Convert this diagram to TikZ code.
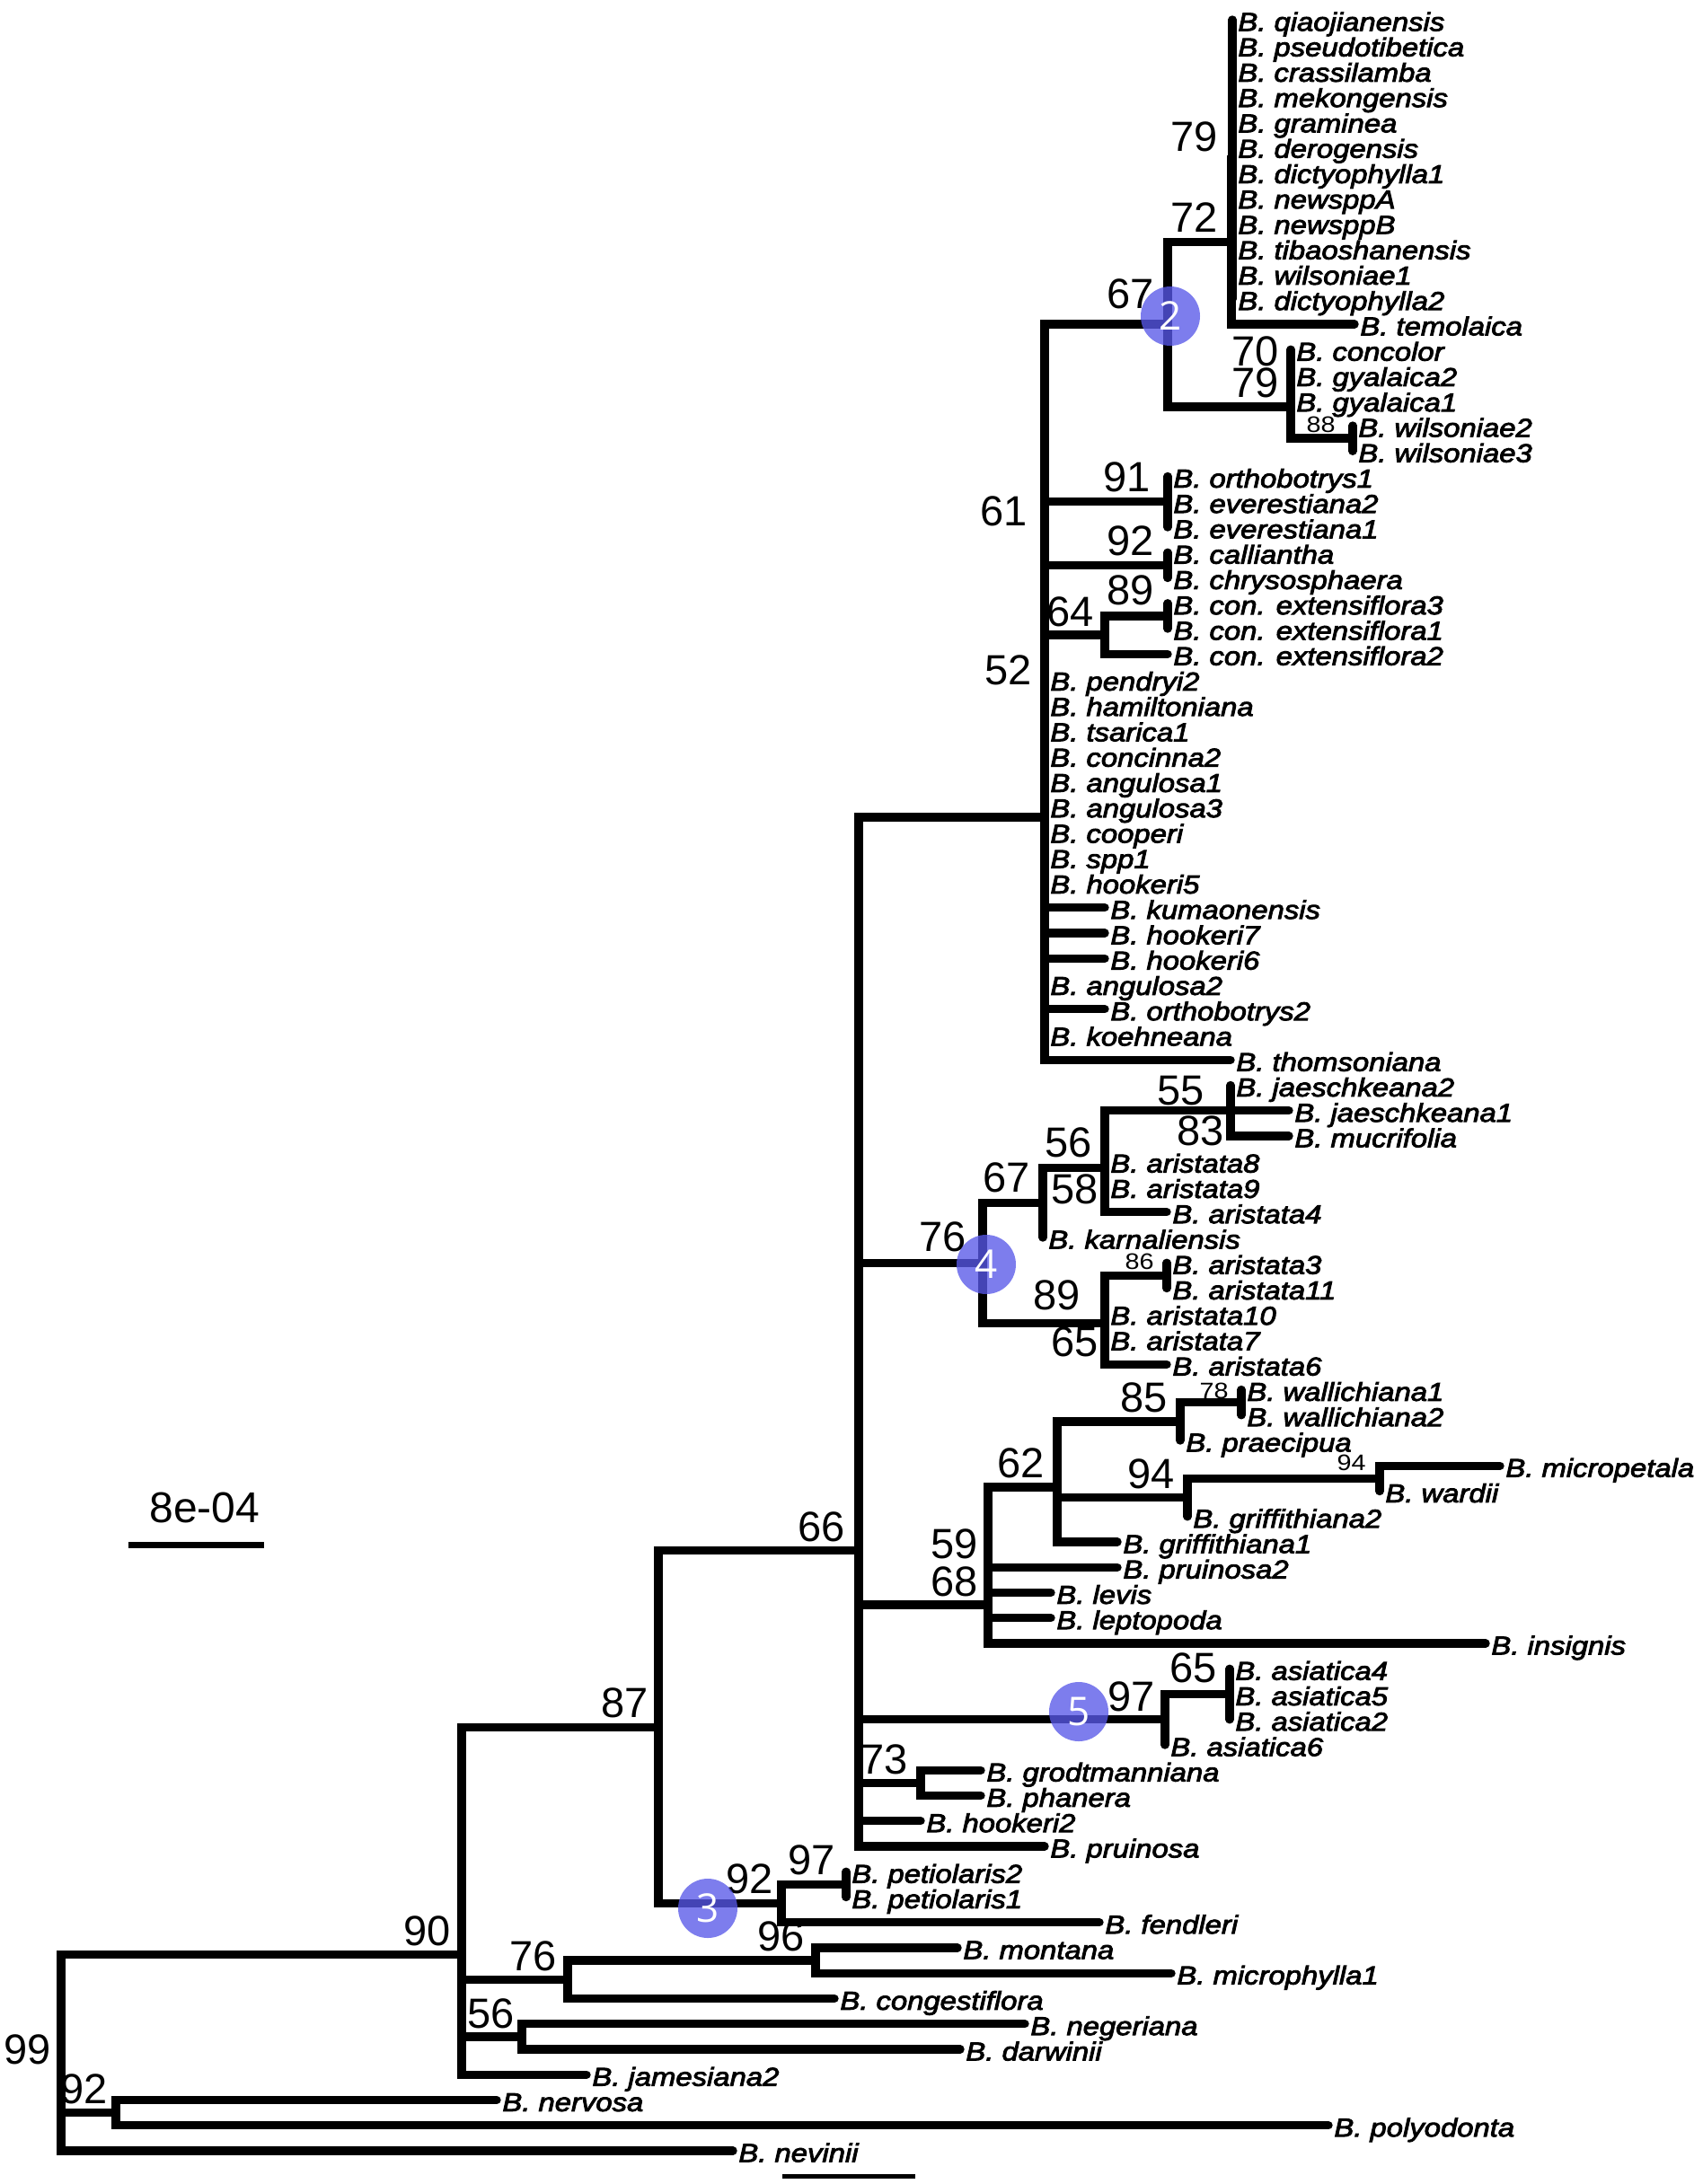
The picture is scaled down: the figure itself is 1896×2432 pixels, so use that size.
\documentclass[tikz,border=0pt]{standalone}
\usepackage{fontspec}
\setmainfont{Liberation Sans}
\newfontfamily\tipfont[FakeStretch=1.14,FakeBold=3]{Liberation Sans}
\newfontfamily\smallfont[FakeStretch=1.15]{Liberation Sans}
\newfontfamily\circfont{Open Sans}
\definecolor{circblue}{RGB}{88,88,232}
\begin{document}
\begin{tikzpicture}[x=0.5pt,y=-0.5pt,
  br/.style={line width=4.7pt,line cap=round,line join=miter},
  tiplabel/.style={anchor=base west,inner sep=0pt,xshift=3pt,yshift=-6.2pt,font=\tipfont\itshape\fontsize{14.4}{15}\selectfont},
  bslab/.style={anchor=base east,inner sep=0pt,font=\fontsize{23.5}{24}\selectfont},
  bssmall/.style={anchor=base east,inner sep=0pt,font=\smallfont\fontsize{12.5}{13}\selectfont},
  marker/.style={circle,fill=circblue,fill opacity=0.78,text opacity=1,text=white,minimum size=33pt,inner sep=0pt,font=\circfont\fontsize{22}{22}\selectfont}]
\useasboundingbox (0,0) rectangle (1896,2432);
% tips
\foreach \i/\x in {
1/1372, 2/1372, 3/1372, 4/1372, 5/1372, 6/1372, 7/1372, 8/1372, 9/1372, 10/1372, 11/1372, 12/1372,
13/1508, 14/1437, 15/1437, 16/1437, 17/1506, 18/1506, 19/1300, 20/1300, 21/1300, 22/1300,
23/1300, 24/1300, 25/1300, 26/1300, 27/1163, 28/1163, 29/1163, 30/1163, 31/1163,
32/1163, 33/1163, 34/1163, 35/1163, 36/1230, 37/1230, 38/1230, 39/1163, 40/1230, 41/1163,
42/1370, 43/1370, 44/1435, 45/1435, 46/1230, 47/1230, 48/1299, 49/1161, 50/1299,
51/1299, 52/1230, 53/1230, 54/1299, 55/1382, 56/1382, 57/1314, 58/1670, 59/1536, 60/1322,
61/1244, 62/1244, 63/1170, 64/1170, 65/1654, 66/1369, 67/1369, 68/1369, 69/1297, 70/1092,
71/1092, 72/1025, 73/1163, 74/942, 75/942, 76/1224, 77/1066, 78/1304, 79/929, 80/1141,
81/1069, 82/653, 83/553, 84/1479, 85/816}
{ \coordinate (t\i) at (\x,{22+28.25*(\i-1)}); }
% internal nodes
\coordinate (n79) at (1372,177.4);
\coordinate (n72) at (1371,269.2);
\coordinate (n70) at (1437,417.5);
\coordinate (n88) at (1506,488.1);
\coordinate (nA) at (1437,452.8);
\coordinate (n67) at (1300,361);
\coordinate (n91) at (1300,558.75);
\coordinate (n92) at (1300,629.4);
\coordinate (n89) at (1300,685.9);
\coordinate (n64) at (1230,707.1);
\coordinate (n52) at (1163,910);
\coordinate (n55) at (1370,1236.75);
\coordinate (n56) at (1230,1300.3);
\coordinate (n67b) at (1161,1339.2);
\coordinate (n86) at (1299,1420.4);
\coordinate (n89b) at (1230,1473.4);
\coordinate (n76) at (1094,1406.3);
\coordinate (n78) at (1382,1561.6);
\coordinate (n85) at (1314,1582.8);
\coordinate (n94b) at (1536,1646.4);
\coordinate (n94) at (1322,1667.6);
\coordinate (n62) at (1177,1655.8);
\coordinate (n68) at (1100,1787);
\coordinate (n65) at (1369,1886.5);
\coordinate (n97) at (1297,1914.75);
\coordinate (n73) at (1025,1985.4);
\coordinate (n66) at (956,1726.7);
\coordinate (n97p) at (942,2098.4);
\coordinate (n92p) at (870,2119.6);
\coordinate (n87) at (733,1923.2);
\coordinate (n96) at (908,2183.1);
\coordinate (n76b) at (632,2204.3);
\coordinate (n56b) at (581,2267.9);
\coordinate (n90) at (514,2176.4);
\coordinate (n92b) at (129,2352.6);
\coordinate (n99) at (68,2308);
% branches
\foreach \i in {1,...,12} \draw[br] (n79) |- (t\i);
\draw[br] (n72) |- (n79); \draw[br] (n72) |- (t13);
\foreach \i in {14,15,16} \draw[br] (n70) |- (t\i);
\foreach \i in {17,18} \draw[br] (n88) |- (t\i);
\draw[br] (nA) |- (n70); \draw[br] (nA) |- (n88);
\draw[br] (n67) |- (n72); \draw[br] (n67) |- (nA);
\foreach \i in {19,20,21} \draw[br] (n91) |- (t\i);
\foreach \i in {22,23} \draw[br] (n92) |- (t\i);
\foreach \i in {24,25} \draw[br] (n89) |- (t\i);
\draw[br] (n64) |- (n89); \draw[br] (n64) |- (t26);
\foreach \c in {n67,n91,n92,n64} \draw[br] (n52) |- (\c);
\foreach \i in {27,...,42} \draw[br] (n52) |- (t\i);
\foreach \i in {43,44,45} \draw[br] (n55) |- (t\i);
\draw[br] (n56) |- (n55);
\foreach \i in {46,47,48} \draw[br] (n56) |- (t\i);
\draw[br] (n67b) |- (n56); \draw[br] (n67b) |- (t49);
\foreach \i in {50,51} \draw[br] (n86) |- (t\i);
\draw[br] (n89b) |- (n86);
\foreach \i in {52,53,54} \draw[br] (n89b) |- (t\i);
\draw[br] (n76) |- (n67b); \draw[br] (n76) |- (n89b);
\foreach \i in {55,56} \draw[br] (n78) |- (t\i);
\draw[br] (n85) |- (n78); \draw[br] (n85) |- (t57);
\foreach \i in {58,59} \draw[br] (n94b) |- (t\i);
\draw[br] (n94) |- (n94b); \draw[br] (n94) |- (t60);
\draw[br] (n62) |- (n85); \draw[br] (n62) |- (n94); \draw[br] (n62) |- (t61);
\draw[br] (n68) |- (n62);
\foreach \i in {62,63,64,65} \draw[br] (n68) |- (t\i);
\foreach \i in {66,67,68} \draw[br] (n65) |- (t\i);
\draw[br] (n97) |- (n65); \draw[br] (n97) |- (t69);
\foreach \i in {70,71} \draw[br] (n73) |- (t\i);
\foreach \c in {n52,n76,n68,n97,n73,t72,t73} \draw[br] (n66) |- (\c);
\foreach \i in {74,75} \draw[br] (n97p) |- (t\i);
\draw[br] (n92p) |- (n97p); \draw[br] (n92p) |- (t76);
\draw[br] (n87) |- (n66); \draw[br] (n87) |- (n92p);
\foreach \i in {77,78} \draw[br] (n96) |- (t\i);
\draw[br] (n76b) |- (n96); \draw[br] (n76b) |- (t79);
\foreach \i in {80,81} \draw[br] (n56b) |- (t\i);
\foreach \c in {n87,n76b,n56b,t82} \draw[br] (n90) |- (\c);
\foreach \i in {83,84} \draw[br] (n92b) |- (t\i);
\foreach \c in {n90,n92b,t85} \draw[br] (n99) |- (\c);
% tip labels
\foreach \i/\nm in {
1/qiaojianensis, 2/pseudotibetica, 3/crassilamba, 4/mekongensis,
5/graminea, 6/derogensis, 7/dictyophylla1, 8/newsppA, 9/newsppB,
10/tibaoshanensis, 11/wilsoniae1, 12/dictyophylla2, 13/temolaica,
14/concolor, 15/gyalaica2, 16/gyalaica1, 17/wilsoniae2, 18/wilsoniae3,
19/orthobotrys1, 20/everestiana2, 21/everestiana1, 22/calliantha,
23/chrysosphaera, 24/con. extensiflora3, 25/con. extensiflora1, 26/con. extensiflora2,
27/pendryi2, 28/hamiltoniana, 29/tsarica1, 30/concinna2, 31/angulosa1,
32/angulosa3, 33/cooperi, 34/spp1, 35/hookeri5, 36/kumaonensis,
37/hookeri7, 38/hookeri6, 39/angulosa2, 40/orthobotrys2, 41/koehneana,
42/thomsoniana, 43/jaeschkeana2, 44/jaeschkeana1, 45/mucrifolia,
46/aristata8, 47/aristata9, 48/aristata4, 49/karnaliensis, 50/aristata3,
51/aristata11, 52/aristata10, 53/aristata7, 54/aristata6, 55/wallichiana1,
56/wallichiana2, 57/praecipua, 58/micropetala, 59/wardii, 60/griffithiana2,
61/griffithiana1, 62/pruinosa2, 63/levis, 64/leptopoda, 65/insignis,
66/asiatica4, 67/asiatica5, 68/asiatica2, 69/asiatica6, 70/grodtmanniana,
71/phanera, 72/hookeri2, 73/pruinosa, 74/petiolaris2, 75/petiolaris1,
76/fendleri, 77/montana, 78/microphylla1, 79/congestiflora, 80/negeriana,
81/darwinii, 82/jamesiana2, 83/nervosa, 84/polyodonta, 85/nevinii}
{ \node[tiplabel] (L\i) at (t\i) {B. \nm}; }
% support values
\node[bslab] (s79a) at (1356,168) {79};
\node[bslab] (s72) at (1356,258) {72};
\node[bslab] (s67a) at (1285,343) {67};
\node[bslab] (s70) at (1424,407) {70};
\node[bslab] (s79b) at (1424,442) {79};
\node[bssmall] (s88) at (1487,481) {88};
\node[bslab] (s91) at (1281,547) {91};
\node[bslab] (s61) at (1144,585) {61};
\node[bslab] (s92a) at (1285,618) {92};
\node[bslab] (s89a) at (1285,673) {89};
\node[bslab] (s64) at (1218,697) {64};
\node[bslab] (s52) at (1149,762) {52};
\node[bslab] (s55) at (1341,1230) {55};
\node[bslab] (s83) at (1363,1275) {83};
\node[bslab] (s56a) at (1216,1288) {56};
\node[bslab] (s67b) at (1147,1327) {67};
\node[bslab] (s58) at (1223,1340) {58};
\node[bslab] (s76a) at (1076,1393) {76};
\node[bssmall] (s86) at (1285,1413) {86};
\node[bslab] (s89b) at (1203,1458) {89};
\node[bslab] (s65a) at (1223,1510) {65};
\node[bssmall] (s78) at (1368,1557) {78};
\node[bslab] (s85) at (1300,1572) {85};
\node[bssmall] (s94b) at (1521,1637) {94};
\node[bslab] (s62) at (1163,1645) {62};
\node[bslab] (s94a) at (1308,1657) {94};
\node[bslab] (s59) at (1089,1735) {59};
\node[bslab] (s68) at (1089,1777) {68};
\node[bslab] (s66) at (941,1716) {66};
\node[bslab] (s65b) at (1355,1873) {65};
\node[bslab] (s97a) at (1286,1905) {97};
\node[bslab] (s73) at (1011,1975) {73};
\node[bslab] (s87) at (722,1912) {87};
\node[bslab] (s97b) at (930,2087) {97};
\node[bslab] (s92b) at (861,2108) {92};
\node[bslab] (s96) at (896,2172) {96};
\node[bslab] (s90) at (502,2166) {90};
\node[bslab] (s76b) at (620,2194) {76};
\node[bslab] (s56b) at (573,2258) {56};
\node[bslab] (s99) at (57,2298) {99};
\node[bslab] (s92c) at (120,2342) {92};
% markers
\node[marker] (c2) at (1303,352) {2};
\node[marker] (c4) at (1098,1408) {4};
\node[marker] (c5) at (1201,1906) {5};
\node[marker] (c3) at (788,2125) {3};
% scale bars
\coordinate (sbA) at (143,1720);
\coordinate (sbB) at (294,1720);
\draw[line width=3.5pt] (sbA) -- (sbB);
\node[anchor=base,inner sep=0pt,font=\fontsize{24}{24}\selectfont] (sbt) at (228,1695) {8e-04};
\coordinate (sbC) at (871,2423);
\coordinate (sbD) at (1019,2423);
\draw[line width=2.5pt] (sbC) -- (sbD);
\end{tikzpicture}
\end{document}
